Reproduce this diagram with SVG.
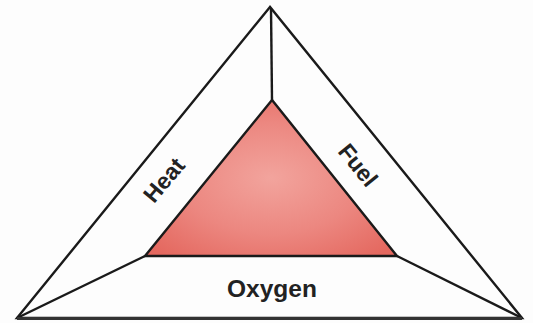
<svg xmlns="http://www.w3.org/2000/svg" width="533" height="323" viewBox="0 0 533 323">
<defs>
<radialGradient id="fire" cx="0.5" cy="0.5" r="0.65">
<stop offset="0" stop-color="#f2a49d"/>
<stop offset="0.55" stop-color="#ec8780"/>
<stop offset="1" stop-color="#e4685f"/>
</radialGradient>
<style>
.ln{fill:none;stroke:#1a1a1a;stroke-width:2.4;stroke-linejoin:miter}
.lbl{font-family:"Liberation Sans",Arial,sans-serif;font-weight:bold;fill:#222;text-anchor:middle}
</style>
</defs>
<rect width="533" height="323" fill="#fdfdfd"/>
<g id="inner">
<polygon points="272,100 145,256 397,256" fill="url(#fire)" stroke="#1a1a1a" stroke-width="2.4"/>
</g>
<g id="connectors">
<line class="ln" x1="271" y1="8" x2="272" y2="100"/>
<line class="ln" x1="17" y1="318" x2="145" y2="256"/>
<line class="ln" x1="522" y1="318" x2="397" y2="256"/>
</g>
<g id="outer">
<polygon class="ln" points="270,7 17,318 522,318"/>
<line x1="17" y1="318.5" x2="522" y2="318.5" stroke="#333" stroke-width="3"/>
</g>
<g id="heat"><text class="lbl" font-size="23" x="164" y="188" transform="rotate(-50 164 180)">Heat</text></g>
<g id="fuel"><text class="lbl" font-size="23" x="358" y="173" transform="rotate(51 358 165)">Fuel</text></g>
<g id="oxygen"><text class="lbl" font-size="24.5" x="272" y="297">Oxygen</text></g>
</svg>
